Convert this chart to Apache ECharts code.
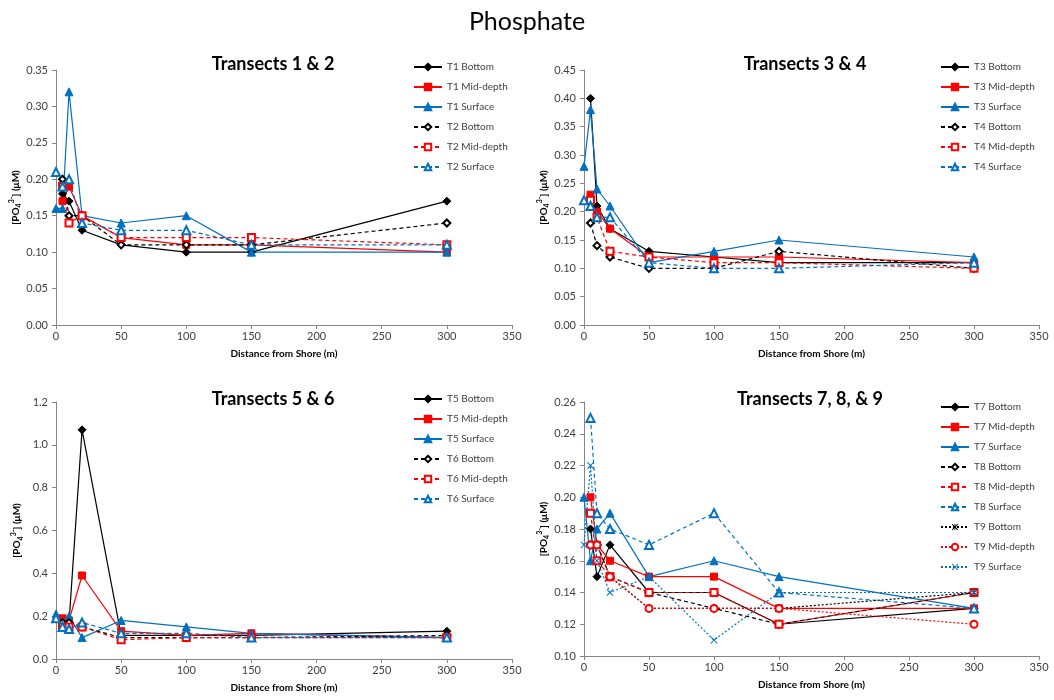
<!DOCTYPE html>
<html>
<head>
<meta charset="utf-8">
<script src="https://cdn.jsdelivr.net/npm/echarts@6/dist/echarts.min.js"></script>
<style>
html,body{margin:0;padding:0;background:#fff;}
#chart{width:1054px;height:700px;}
</style>
</head>
<body>
<div id="chart"></div>
<script>
// ---- Data ----
const distance = [0, 5, 10, 20, 50, 100, 150, 300];

// Transects 1 & 2
const T1_Bottom  = [null, 0.18, 0.17, 0.13, 0.11, 0.10, 0.10, 0.17];
const T1_Mid     = [null, 0.17, 0.19, 0.15, 0.12, 0.11, 0.11, 0.10];
const T1_Surface = [0.16, 0.16, 0.32, 0.15, 0.14, 0.15, 0.10, 0.10];
const T2_Bottom  = [null, 0.20, 0.15, 0.15, 0.11, 0.11, 0.11, 0.14];
const T2_Mid     = [null, 0.19, 0.14, 0.15, 0.12, 0.12, 0.12, 0.11];
const T2_Surface = [0.21, 0.19, 0.20, 0.14, 0.13, 0.13, 0.11, 0.11];

// Transects 3 & 4
const T3_Bottom  = [null, 0.40, 0.21, 0.17, 0.13, 0.12, 0.11, 0.11];
const T3_Mid     = [null, 0.23, 0.20, 0.17, 0.12, 0.12, 0.12, 0.11];
const T3_Surface = [0.28, 0.38, 0.24, 0.21, 0.11, 0.13, 0.15, 0.12];
const T4_Bottom  = [null, 0.18, 0.14, 0.12, 0.10, 0.10, 0.13, 0.10];
const T4_Mid     = [null, 0.22, 0.19, 0.13, 0.12, 0.11, 0.11, 0.10];
const T4_Surface = [0.22, 0.21, 0.19, 0.19, 0.11, 0.10, 0.10, 0.11];

// Transects 5 & 6
const T5_Bottom  = [null, 0.17, 0.17, 1.07, 0.11, 0.11, 0.11, 0.13];
const T5_Mid     = [null, 0.19, 0.18, 0.39, 0.13, 0.11, 0.12, 0.10];
const T5_Surface = [0.21, 0.17, 0.20, 0.10, 0.18, 0.15, 0.12, 0.10];
const T6_Bottom  = [null, 0.17, 0.17, 0.15, 0.10, 0.10, 0.10, 0.11];
const T6_Mid     = [null, 0.15, 0.15, 0.15, 0.09, 0.10, 0.10, 0.10];
const T6_Surface = [0.19, 0.15, 0.14, 0.17, 0.12, 0.12, 0.10, 0.10];

// Transects 7, 8, & 9
const T7_Bottom  = [null, 0.18, 0.15, 0.17, 0.14, 0.14, 0.12, 0.13];
const T7_Mid     = [null, 0.20, 0.17, 0.16, 0.15, 0.15, 0.13, 0.13];
const T7_Surface = [0.20, 0.16, 0.18, 0.19, 0.15, 0.16, 0.15, 0.13];
const T8_Bottom  = [null, 0.17, 0.17, 0.15, 0.14, 0.13, 0.12, 0.14];
const T8_Mid     = [null, 0.19, 0.16, 0.15, 0.14, 0.14, 0.12, 0.14];
const T8_Surface = [null, 0.25, 0.19, 0.18, 0.17, 0.19, 0.14, 0.13];
const T9_Bottom  = [null, 0.17, 0.17, 0.15, 0.13, 0.13, 0.13, 0.14];
const T9_Mid     = [null, 0.17, 0.17, 0.15, 0.13, 0.13, 0.13, 0.12];
const T9_Surface = [0.17, 0.22, 0.16, 0.14, 0.15, 0.11, 0.14, 0.14];

const panelTitles = ['Transects 1 & 2', 'Transects 3 & 4', 'Transects 5 & 6', 'Transects 7, 8, & 9'];
const xTicks = {min: 0, max: 350, interval: 50};
const yRanges = [
  {min: 0, max: 0.35, interval: 0.05, dec: 2},
  {min: 0, max: 0.45, interval: 0.05, dec: 2},
  {min: 0, max: 1.2, interval: 0.2, dec: 1},
  {min: 0.10, max: 0.26, interval: 0.02, dec: 2}
];

// ---- Styles ----
const BLACK = '#000000', RED = '#FF0000', BLUE = '#0070C0';
const X_PATH = 'path://M0,1 L1,0 L5,4 L9,0 L10,1 L6,5 L10,9 L9,10 L5,6 L1,10 L0,9 L4,5 Z';
const AST_PATH = 'path://M0,1 L1,0 L5,4 L9,0 L10,1 L6,5 L10,9 L9,10 L5,6 L1,10 L0,9 L4,5 Z M4.4,0 L5.6,0 L5.6,10 L4.4,10 Z';
const styleA = { // solid, filled
  Bottom: {color: BLACK, symbol: 'diamond', size: 8},
  Mid: {color: RED, symbol: 'rect', size: 7},
  Surface: {color: BLUE, symbol: 'triangle', size: 8},
  type: 'solid'
};
const styleB = { // dashed, open
  Bottom: {color: BLACK, symbol: 'emptyDiamond', size: 7},
  Mid: {color: RED, symbol: 'emptyRect', size: 7},
  Surface: {color: BLUE, symbol: 'emptyTriangle', size: 8},
  type: [4, 3]
};
const styleC = { // dotted
  Bottom: {color: BLACK, symbol: AST_PATH, size: 7},
  Mid: {color: RED, symbol: 'emptyCircle', size: 7},
  Surface: {color: BLUE, symbol: X_PATH, size: 7},
  type: [2, 2]
};

const panels = [
  [['T1', styleA, T1_Bottom, T1_Mid, T1_Surface], ['T2', styleB, T2_Bottom, T2_Mid, T2_Surface]],
  [['T3', styleA, T3_Bottom, T3_Mid, T3_Surface], ['T4', styleB, T4_Bottom, T4_Mid, T4_Surface]],
  [['T5', styleA, T5_Bottom, T5_Mid, T5_Surface], ['T6', styleB, T6_Bottom, T6_Mid, T6_Surface]],
  [['T7', styleA, T7_Bottom, T7_Mid, T7_Surface], ['T8', styleB, T8_Bottom, T8_Mid, T8_Surface], ['T9', styleC, T9_Bottom, T9_Mid, T9_Surface]]
];

// ---- Layout ----
const FONT = 'Lato, "Liberation Sans", sans-serif';
const grids = [
  {left: 56, top: 70, width: 456, height: 255},
  {left: 584, top: 70, width: 455, height: 255},
  {left: 56, top: 402, width: 456, height: 257},
  {left: 584, top: 402, width: 455, height: 254}
];
const titlePos = [{x: 268, y: 50}, {x: 800, y: 50}, {x: 268, y: 385}, {x: 805, y: 385}];
const legendPos = [{x: 408, y: 57}, {x: 935, y: 57}, {x: 408, y: 389}, {x: 935, y: 397}];

const titles = [{
  text: 'Phosphate', left: 'center', top: 4,
  textStyle: {fontFamily: FONT, fontSize: 25, fontWeight: 'normal', color: '#000'}
}];
panelTitles.forEach((t, i) => titles.push({
  text: t, left: titlePos[i].x, top: titlePos[i].y, textAlign: 'center',
  textStyle: {fontFamily: FONT, fontSize: 18, fontWeight: 'bold', color: '#000'}
}));

const xAxes = [], yAxes = [], series = [], legends = [];
panels.forEach((panel, pi) => {
  xAxes.push({
    type: 'value', gridIndex: pi, min: xTicks.min, max: xTicks.max, interval: xTicks.interval,
    name: 'Distance from Shore (m)', nameLocation: 'middle', nameGap: 24,
    nameTextStyle: {fontFamily: FONT, fontSize: 10, fontWeight: 'bold', color: '#000'},
    axisLine: {onZero: false, lineStyle: {color: '#868686'}},
    axisTick: {show: true, length: 4, lineStyle: {color: '#868686'}},
    axisLabel: {fontFamily: FONT, fontSize: 11, color: '#404040', margin: 6},
    splitLine: {show: false}
  });
  const yr = yRanges[pi];
  yAxes.push({
    type: 'value', gridIndex: pi, min: yr.min, max: yr.max, interval: yr.interval,
    name: '[PO{sub|4}{sup|3-}] (μM)', nameLocation: 'middle', nameGap: 32,
    nameTextStyle: {fontFamily: FONT, fontSize: 10, fontWeight: 'bold', color: '#000', lineHeight: 14,
      rich: {
        sub: {fontFamily: FONT, fontSize: 7, fontWeight: 'bold', color: '#000', verticalAlign: 'bottom', lineHeight: 14},
        sup: {fontFamily: FONT, fontSize: 7, fontWeight: 'bold', color: '#000', verticalAlign: 'top', lineHeight: 14}
      }},
    axisLine: {show: true, lineStyle: {color: '#868686'}},
    axisTick: {show: true, length: 4, lineStyle: {color: '#868686'}},
    axisLabel: {fontFamily: FONT, fontSize: 11, color: '#404040', margin: 8,
      formatter: v => v.toFixed(yr.dec)},
    splitLine: {show: false}
  });
  const names = [];
  panel.forEach(([tr, st, bot, mid, surf]) => {
    [['Bottom', bot], ['Mid', mid], ['Surface', surf]].forEach(([depth, vals]) => {
      const s = st[depth];
      const name = tr + ' ' + (depth === 'Mid' ? 'Mid-depth' : depth);
      names.push(name);
      const data = [];
      distance.forEach((d, i) => { if (vals[i] !== null) data.push([d, vals[i]]); });
      const isPath = s.symbol.indexOf('path://') === 0;
      series.push({
        name, type: 'line', xAxisIndex: pi, yAxisIndex: pi, data,
        symbol: s.symbol, symbolSize: s.size, showAllSymbol: true,
        lineStyle: {color: s.color, width: 1.2, type: st.type},
        itemStyle: {color: s.color, borderColor: s.color, borderWidth: isPath ? 0 : 1},
        emphasis: {disabled: true}, animation: false
      });
    });
  });
  legends.push({
    data: names, orient: 'vertical', left: legendPos[pi].x, top: legendPos[pi].y,
    itemWidth: 28, itemHeight: 8, itemGap: 10, selectedMode: false,
    textStyle: {fontFamily: FONT, fontSize: 10, color: '#404040'}
  });
});

const chart = echarts.init(document.getElementById('chart'), null, {renderer: 'canvas'});
chart.setOption({
  backgroundColor: '#ffffff',
  animation: false,
  title: titles,
  grid: grids,
  xAxis: xAxes,
  yAxis: yAxes,
  legend: legends,
  series
});
</script>
</body>
</html>
